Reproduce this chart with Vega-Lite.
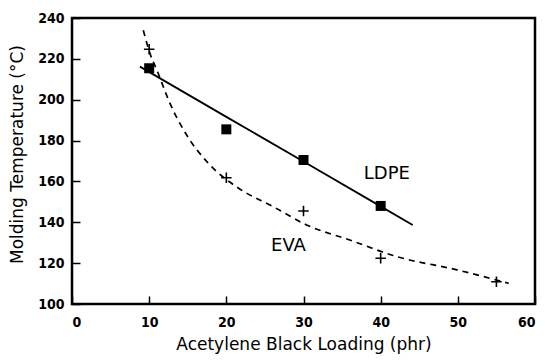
{
  "$schema": "https://vega.github.io/schema/vega-lite/v6.json",
  "autosize": {"type": "none"},
  "width": 463,
  "height": 286,
  "padding": {"left": 72, "top": 18, "right": 10, "bottom": 57},
  "background": "white",
  "config": {
    "view": {"stroke": "black", "strokeWidth": 2.5},
    "axis": {
      "domain": false,
      "grid": false,
      "tickSize": -8,
      "tickColor": "black",
      "tickWidth": 1.5,
      "labelFont": "DejaVu Sans Condensed, DejaVu Sans, sans-serif",
      "labelFontWeight": "bold",
      "labelFontSize": 14,
      "labelColor": "black",
      "titleFont": "DejaVu Sans",
      "titleFontWeight": "normal",
      "titleFontSize": 17,
      "titleColor": "black"
    }
  },
  "data": {
    "values": [
      {"series": "LDPE", "kind": "point", "x": 10, "y": 215.4},
      {"series": "LDPE", "kind": "point", "x": 20, "y": 185.5},
      {"series": "LDPE", "kind": "point", "x": 30, "y": 170.5},
      {"series": "LDPE", "kind": "point", "x": 40, "y": 148},
      {"series": "EVA", "kind": "point", "x": 10, "y": 224.7},
      {"series": "EVA", "kind": "point", "x": 20, "y": 161.8},
      {"series": "EVA", "kind": "point", "x": 30, "y": 145.5},
      {"series": "EVA", "kind": "point", "x": 40, "y": 122.4},
      {"series": "EVA", "kind": "point", "x": 55, "y": 110.9},
      {"series": "LDPE", "kind": "curve", "x": 8.8, "y": 216.2},
      {"series": "LDPE", "kind": "curve", "x": 20, "y": 191.6},
      {"series": "LDPE", "kind": "curve", "x": 30, "y": 169.8},
      {"series": "LDPE", "kind": "curve", "x": 40, "y": 147.8},
      {"series": "LDPE", "kind": "curve", "x": 44.15, "y": 138.7},
      {"series": "EVA", "kind": "curve", "x": 9.24, "y": 234.0},
      {"series": "EVA", "kind": "curve", "x": 10.1, "y": 222.7},
      {"series": "EVA", "kind": "curve", "x": 11.0, "y": 214.5},
      {"series": "EVA", "kind": "curve", "x": 12.7, "y": 198.2},
      {"series": "EVA", "kind": "curve", "x": 14.86, "y": 182.7},
      {"series": "EVA", "kind": "curve", "x": 17.66, "y": 168.9},
      {"series": "EVA", "kind": "curve", "x": 21.3, "y": 157.4},
      {"series": "EVA", "kind": "curve", "x": 26.1, "y": 147.6},
      {"series": "EVA", "kind": "curve", "x": 30.4, "y": 138.7},
      {"series": "EVA", "kind": "curve", "x": 36.0, "y": 131.3},
      {"series": "EVA", "kind": "curve", "x": 42.1, "y": 123.2},
      {"series": "EVA", "kind": "curve", "x": 49.9, "y": 116.7},
      {"series": "EVA", "kind": "curve", "x": 56.6, "y": 110.1},
      {"series": "LDPE", "kind": "label", "x": 40.8, "y": 163.6},
      {"series": "EVA", "kind": "label", "x": 28.05, "y": 128.5}
    ]
  },
  "encoding": {
    "x": {
      "field": "x",
      "type": "quantitative",
      "scale": {"domain": [0, 60], "nice": false},
      "axis": {
        "title": "Acetylene Black Loading (phr)",
        "values": [0, 10, 20, 30, 40, 50, 60],
        "labelPadding": 19,
        "titlePadding": 7
      }
    },
    "y": {
      "field": "y",
      "type": "quantitative",
      "scale": {"domain": [100, 240], "nice": false, "zero": false},
      "axis": {
        "title": "Molding Temperature  (°C)",
        "values": [100, 120, 140, 160, 180, 200, 220, 240],
        "labelPadding": 16,
        "titlePadding": 11,
        "titleY": 136
      }
    }
  },
  "layer": [
    {
      "transform": [{"filter": "datum.kind === 'curve' && datum.series === 'LDPE'"}],
      "mark": {"type": "line", "color": "black", "strokeWidth": 1.8}
    },
    {
      "transform": [{"filter": "datum.kind === 'curve' && datum.series === 'EVA'"}],
      "mark": {"type": "line", "color": "black", "strokeWidth": 1.7, "strokeDash": [6, 5], "interpolate": "monotone"}
    },
    {
      "transform": [{"filter": "datum.kind === 'point' && datum.series === 'LDPE'"}],
      "mark": {"type": "point", "shape": "square", "filled": true, "color": "black", "size": 100, "opacity": 1}
    },
    {
      "transform": [{"filter": "datum.kind === 'point' && datum.series === 'EVA'"}],
      "mark": {"type": "point", "shape": "M-1,0L1,0M0,-1L0,1", "filled": false, "color": "black", "size": 110, "strokeWidth": 1.6, "opacity": 1}
    },
    {
      "transform": [{"filter": "datum.kind === 'label'"}],
      "mark": {"type": "text", "font": "DejaVu Sans", "fontSize": 18, "color": "black", "align": "center", "baseline": "middle"},
      "encoding": {"text": {"field": "series"}}
    }
  ]
}
